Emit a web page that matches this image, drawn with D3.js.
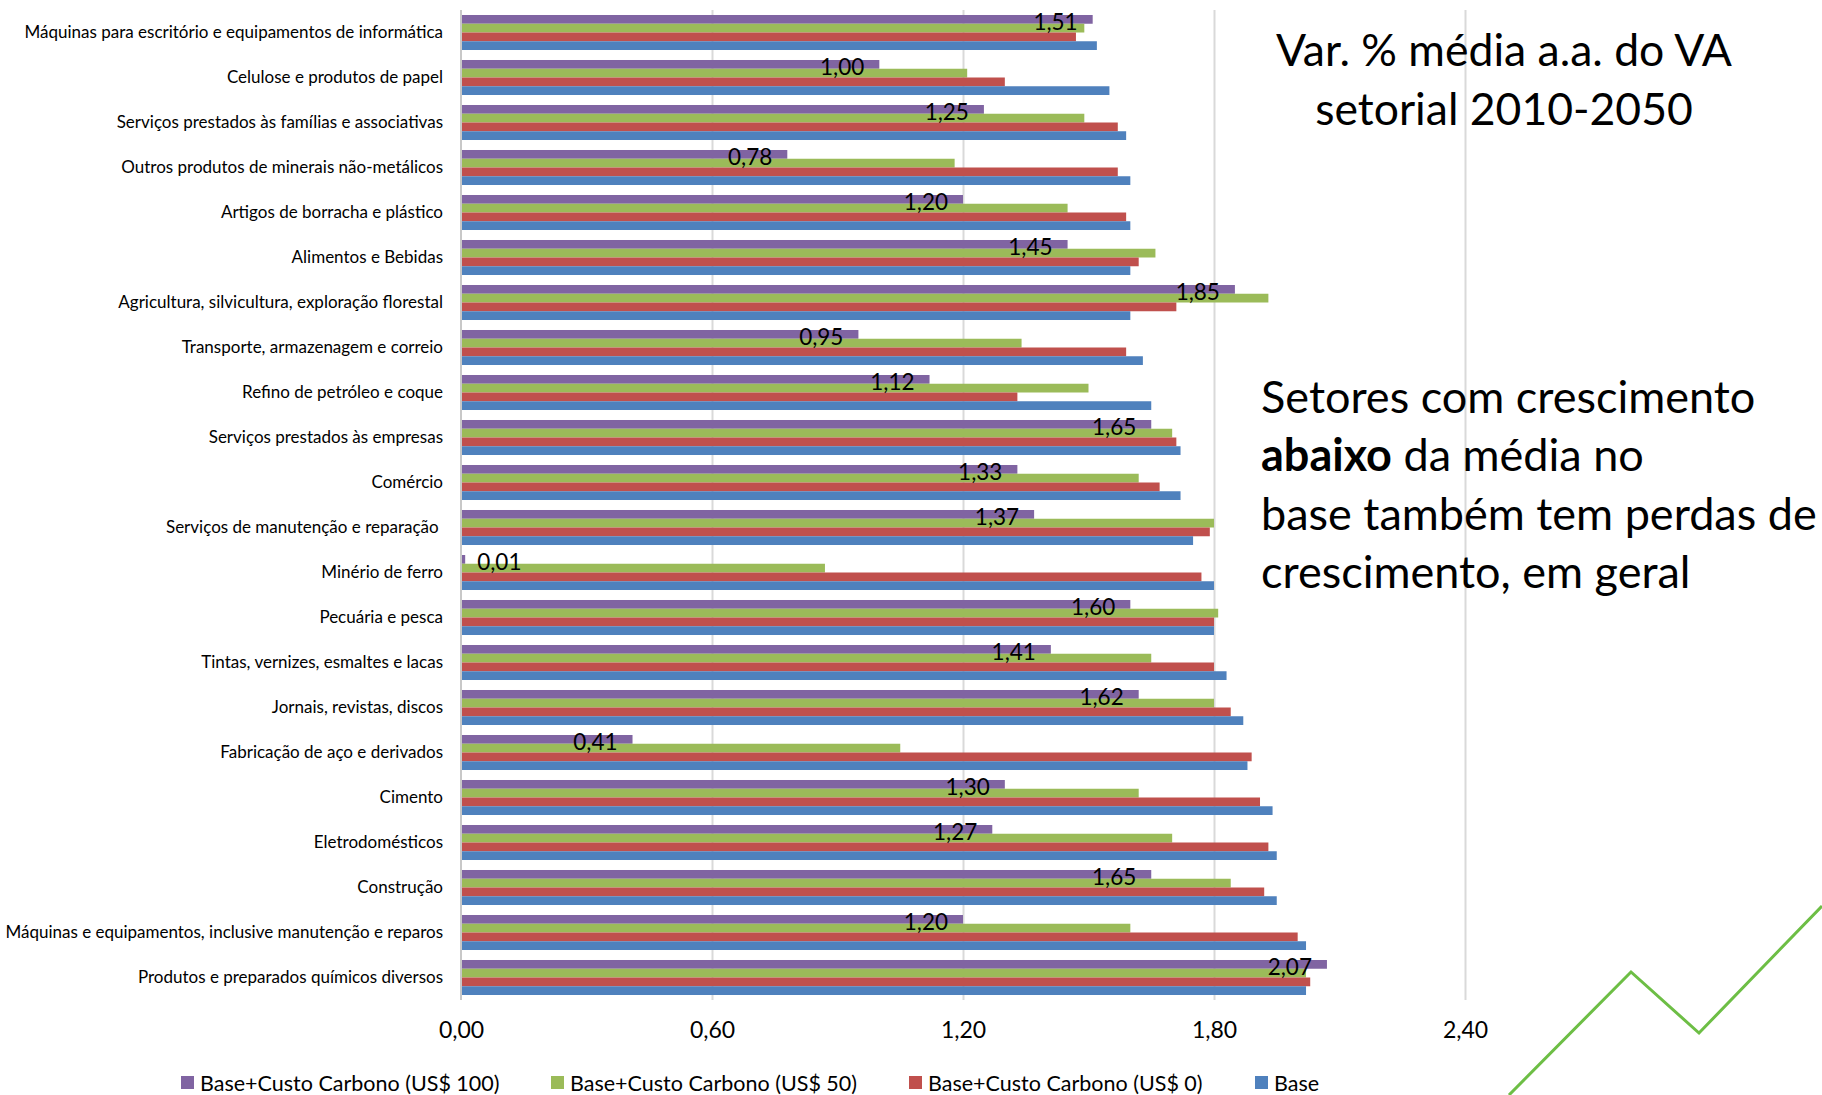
<!DOCTYPE html>
<html lang="pt-BR">
<head>
<meta charset="utf-8">
<script src="https://cdn.jsdelivr.net/npm/d3@7"></script>
<style>
  html, body { margin: 0; padding: 0; background: #ffffff; }
  svg { display: block; font-family: Lato, "Open Sans", "Noto Sans", sans-serif; }
  .cat { white-space: pre; }
</style>
</head>
<body>
<svg id="chart" width="1822" height="1095"></svg>
<script>
// Setores (de cima para baixo)
const categories = [
  "Máquinas para escritório e equipamentos de informática",
  "Celulose e produtos de papel",
  "Serviços prestados às famílias e associativas",
  "Outros produtos de minerais não-metálicos",
  "Artigos de borracha e plástico",
  "Alimentos e Bebidas",
  "Agricultura, silvicultura, exploração florestal",
  "Transporte, armazenagem e correio",
  "Refino de petróleo e coque",
  "Serviços prestados às empresas",
  "Comércio",
  "Serviços de manutenção e reparação ",
  "Minério de ferro",
  "Pecuária e pesca",
  "Tintas, vernizes, esmaltes e lacas",
  "Jornais, revistas, discos",
  "Fabricação de aço e derivados",
  "Cimento",
  "Eletrodomésticos",
  "Construção",
  "Máquinas e equipamentos, inclusive manutenção e reparos",
  "Produtos e preparados químicos diversos"
];

// Var. % média a.a. do VA setorial 2010-2050, por cenário
const custo100 = [1.51, 1.00, 1.25, 0.78, 1.20, 1.45, 1.85, 0.95, 1.12, 1.65, 1.33,
                  1.37, 0.01, 1.60, 1.41, 1.62, 0.41, 1.30, 1.27, 1.65, 1.20, 2.07];
const custo50  = [1.49, 1.21, 1.49, 1.18, 1.45, 1.66, 1.93, 1.34, 1.50, 1.70, 1.62,
                  1.80, 0.87, 1.81, 1.65, 1.80, 1.05, 1.62, 1.70, 1.84, 1.60, 2.02];
const custo0   = [1.47, 1.30, 1.57, 1.57, 1.59, 1.62, 1.71, 1.59, 1.33, 1.71, 1.67,
                  1.79, 1.77, 1.80, 1.80, 1.84, 1.89, 1.91, 1.93, 1.92, 2.00, 2.03];
const base     = [1.52, 1.55, 1.59, 1.60, 1.60, 1.60, 1.60, 1.63, 1.65, 1.72, 1.72,
                  1.75, 1.80, 1.80, 1.83, 1.87, 1.88, 1.94, 1.95, 1.95, 2.02, 2.02];

const seriesNames = [
  "Base+Custo Carbono (US$ 100)",
  "Base+Custo Carbono (US$ 50)",
  "Base+Custo Carbono (US$ 0)",
  "Base"
];
const seriesValues = [custo100, custo50, custo0, base];
const seriesColors = ["#8064A2", "#9BBB59", "#C0504D", "#4F81BD"];

const xTicks = [0, 0.6, 1.2, 1.8, 2.4];

const titleLines = ["Var. % média a.a. do VA", "setorial 2010-2050"];

const svg = d3.select("#chart");

const locale = d3.formatLocale({ decimal: ",", thousands: ".", grouping: [3], currency: ["R$", ""] });
const fmt = locale.format(".2f");

const plot = { left: 461, right: 1465, top: 10, bottom: 1000 };

const x = d3.scaleLinear().domain([0, 2.4]).range([plot.left, plot.right]);
const y = d3.scaleBand().domain(categories).range([plot.top, plot.bottom])
  .paddingInner(0.222).paddingOuter(0.111);
const ySub = d3.scaleBand().domain(d3.range(seriesNames.length)).range([0, y.bandwidth()]);

// Linhas de grade verticais
const grid = svg.append("g")
  .attr("transform", `translate(0,${plot.bottom})`)
  .call(d3.axisBottom(x).tickValues(xTicks.slice(1)).tickSize(-(plot.bottom - plot.top)).tickFormat(""));
grid.select(".domain").remove();
grid.selectAll(".tick line").attr("stroke", "#D9D9D9").attr("stroke-width", 2);

// Título
svg.append("g").selectAll("text")
  .data(titleLines).join("text")
  .attr("x", 1504)
  .attr("y", (d, i) => 66 + i * 59)
  .attr("text-anchor", "middle")
  .attr("font-size", 44.5)
  .attr("fill", "#000")
  .text(d => d);

// Barras
const rows = svg.append("g").selectAll("g")
  .data(categories).join("g")
  .attr("transform", d => `translate(0,${y(d)})`);

rows.selectAll("rect")
  .data((d, i) => seriesValues.map((vals, s) => ({ s, v: vals[i] })))
  .join("rect")
  .attr("x", x(0))
  .attr("y", d => ySub(d.s))
  .attr("width", d => x(d.v) - x(0))
  .attr("height", ySub.bandwidth())
  .attr("fill", d => seriesColors[d.s]);

// Eixo vertical (categorias)
const yAxis = svg.append("g")
  .attr("transform", `translate(${x(0)},0)`)
  .call(d3.axisLeft(y).tickSize(0).tickPadding(18));
yAxis.select(".domain").attr("stroke", "#C8C8C8").attr("stroke-width", 2)
  .attr("d", `M0,${plot.top}V${plot.bottom}`);
yAxis.selectAll(".tick text")
  .attr("class", "cat")
  .attr("font-family", "Lato, 'Open Sans', sans-serif")
  .attr("font-size", 17)
  .attr("fill", "#000");

// Rótulos de valor do cenário US$ 100
svg.append("g").selectAll("text")
  .data(categories).join("text")
  .attr("x", (d, i) => custo100[i] < 0.2 ? x(custo100[i]) + 12 : x(custo100[i]) - 15)
  .attr("y", d => y(d) + ySub(0) + ySub.bandwidth() / 2 + 3)
  .attr("dy", "0.35em")
  .attr("text-anchor", (d, i) => custo100[i] < 0.2 ? "start" : "end")
  .attr("font-size", 22.5)
  .attr("fill", "#000")
  .text((d, i) => fmt(custo100[i]));

// Eixo horizontal
const xAxis = svg.append("g")
  .attr("transform", `translate(0,${plot.bottom})`)
  .call(d3.axisBottom(x).tickValues(xTicks).tickSize(0).tickPadding(22).tickFormat(fmt));
xAxis.select(".domain").remove();
xAxis.selectAll(".tick text")
  .attr("font-family", "Lato, 'Open Sans', sans-serif")
  .attr("font-size", 23)
  .attr("fill", "#000");

// Legenda
const legendX = [181, 551, 909, 1255];
const legend = svg.append("g").selectAll("g")
  .data(seriesNames).join("g")
  .attr("transform", (d, i) => `translate(${legendX[i]},1076)`);
legend.append("rect")
  .attr("width", 13).attr("height", 13)
  .attr("fill", (d, i) => seriesColors[i]);
legend.append("text")
  .attr("x", 19).attr("y", 7).attr("dy", "0.35em")
  .attr("font-size", 21.5)
  .attr("fill", "#000")
  .text(d => d);

// Texto de destaque
const note = svg.append("text")
  .attr("x", 1261)
  .attr("font-size", 45)
  .attr("fill", "#000");
note.append("tspan").attr("x", 1261).attr("y", 413).text("Setores com crescimento");
const l2 = note.append("tspan").attr("x", 1261).attr("y", 471);
l2.append("tspan").attr("font-weight", "bold").text("abaixo");
l2.append("tspan").text(" da média no");
note.append("tspan").attr("x", 1261).attr("y", 530).text("base também tem perdas de");
note.append("tspan").attr("x", 1261).attr("y", 588).text("crescimento, em geral");

// Linha decorativa verde
svg.append("path")
  .attr("d", d3.line()([[1509, 1095], [1631, 972], [1699, 1033], [1822, 906]]))
  .attr("fill", "none")
  .attr("stroke", "#6DBE45")
  .attr("stroke-width", 3);
</script>
</body>
</html>
